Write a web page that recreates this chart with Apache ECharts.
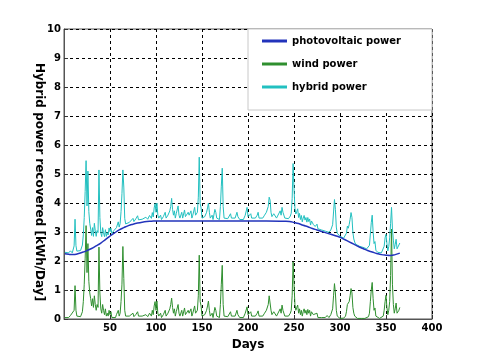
<!DOCTYPE html>
<html>
<head>
<meta charset="utf-8">
<script src="https://cdn.jsdelivr.net/npm/echarts@6/dist/echarts.min.js"></script>
<style>html,body{margin:0;padding:0;background:#fff;}#c{width:480px;height:362px;}</style>
</head>
<body>
<div id="c"></div>
<script>
const seriesNames = ['photovoltaic power', 'wind power', 'hybrid power'];
const xTicks = [50, 100, 150, 200, 250, 300, 350, 400];
const yTicks = [0, 1, 2, 3, 4, 5, 6, 7, 8, 9, 10];

const pvDays = [1, 5, 10, 15, 20, 25, 30, 35, 40, 45, 50, 55, 60, 65, 70, 75, 80, 85, 90, 95, 100, 120, 140, 160, 180, 200, 220, 240, 245, 250, 255, 260, 265, 270, 275, 280, 285, 290, 295, 300, 305, 310, 315, 320, 325, 330, 335, 340, 345, 350, 355, 360, 365];
const pvValues = [2.25, 2.23, 2.22, 2.25, 2.3, 2.36, 2.43, 2.52, 2.62, 2.74, 2.86, 2.97, 3.07, 3.15, 3.22, 3.27, 3.31, 3.34, 3.36, 3.37, 3.38, 3.38, 3.38, 3.38, 3.38, 3.38, 3.38, 3.37, 3.36, 3.33, 3.29, 3.23, 3.18, 3.12, 3.07, 3.02, 2.97, 2.92, 2.87, 2.82, 2.74, 2.66, 2.58, 2.5, 2.43, 2.36, 2.31, 2.26, 2.22, 2.2, 2.19, 2.22, 2.27];

const days = [1,3,5,7,9,11,12,13,14,16,18,20,21,22,23,24,25,26,27,28,29,30,31,32,33,34,35,36,37,38,39,40,41,42,43,44,45,46,47,48,49,50,51,52,54,56,57,59,60,61,62,63,64,65,66,67,69,71,73,75,76,78,80,81,83,85,87,89,91,93,95,96,97,98,99,100,101,102,103,105,106,108,110,111,113,115,116,117,118,119,120,121,122,123,124,125,126,128,129,131,132,134,135,136,138,139,140,142,143,145,146,147,148,149,150,151,153,155,156,157,158,159,161,162,164,165,166,168,169,170,171,172,173,174,176,178,180,181,182,184,186,188,189,191,193,195,197,199,200,201,203,204,206,208,210,211,212,214,216,218,220,222,223,224,225,226,228,229,231,233,235,236,237,238,240,242,244,246,247,248,249,250,251,252,253,254,255,256,257,258,259,260,261,262,263,264,265,266,267,268,269,270,271,272,273,275,276,278,280,282,284,286,288,290,291,292,293,294,295,296,297,298,300,302,304,306,307,308,309,310,311,312,313,314,315,316,317,319,321,323,325,327,329,331,332,333,334,335,336,337,338,339,341,343,345,347,348,349,350,351,352,353,354,355,356,357,358,359,360,361,362,363,364,365];

const windValues = [0.05,0.1,0.05,0.12,0.06,0.3,1.15,0.3,0.1,0.15,0.08,0.25,0.6,1.2,2.1,3.22,1.6,2.6,1.3,0.9,0.7,0.45,0.7,0.4,0.8,0.5,0.3,0.5,0.4,2.48,0.9,0.35,0.2,0.5,0.3,0.15,0.35,0.1,0.2,0.1,0.3,0.15,0.25,0.05,0.1,0.05,0.15,0.3,0.1,0.2,0.6,1.2,2.5,1.4,0.3,0.1,0.05,0.1,0.05,0.2,0.08,0.15,0.25,0.1,0.05,0.1,0.05,0.15,0.08,0.2,0.1,0.3,0.15,0.45,0.6,0.3,0.62,0.2,0.1,0.2,0.05,0.15,0.3,0.1,0.2,0.35,0.5,0.72,0.4,0.2,0.35,0.1,0.25,0.3,0.5,0.2,0.1,0.3,0.1,0.38,0.15,0.1,0.3,0.2,0.35,0.1,0.2,0.45,0.2,0.3,0.8,2.2,0.6,0.45,0.1,0.05,0.15,0.3,0.45,0.62,0.3,0.1,0.2,0.05,0.4,0.3,0.1,0.15,0.05,0.5,1.2,1.85,0.5,0.1,0.05,0.08,0.1,0.25,0.1,0.05,0.1,0.3,0.15,0.05,0.1,0.05,0.2,0.42,0.15,0.1,0.25,0.1,0.05,0.1,0.2,0.28,0.1,0.15,0.1,0.2,0.3,0.5,0.8,0.75,0.3,0.15,0.25,0.2,0.1,0.15,0.35,0.2,0.48,0.3,0.1,0.15,0.1,0.2,0.3,0.8,1.97,1.2,0.5,0.3,0.4,0.48,0.2,0.35,0.15,0.3,0.1,0.25,0.35,0.2,0.3,0.15,0.33,0.2,0.3,0.1,0.25,0.3,0.15,0.2,0.1,0.2,0.05,0.1,0.05,0.08,0.05,0.12,0.05,0.15,0.1,0.35,0.8,1.22,0.9,0.3,0.1,0.05,0.02,0.05,0.03,0.1,0.25,0.5,0.45,0.6,0.8,1.05,0.9,0.4,0.2,0.1,0.05,0.02,0.03,0.02,0.04,0.02,0.05,0.08,0.2,0.6,1.0,1.26,0.7,0.3,0.38,0.1,0.05,0.02,0.05,0.1,0.3,0.6,0.82,0.4,0.15,0.3,0.6,1.5,3.1,1.2,0.5,0.2,0.35,0.55,0.2,0.15,0.3,0.4];

const hybridValues = [2.3,2.34,2.28,2.35,2.28,2.52,3.44,2.53,2.34,2.4,2.36,2.55,2.9,3.5,4.4,5.46,3.9,5.1,3.7,3.3,3.1,2.88,3.15,2.85,3.3,3.05,2.85,3.05,2.98,5.14,3.5,2.97,2.84,3.15,2.97,2.84,3.08,2.85,2.98,2.9,3.14,3.01,3.13,2.95,3.04,3.03,3.15,3.35,3.17,3.29,3.7,4.32,5.14,4.55,3.47,3.28,3.26,3.33,3.3,3.47,3.36,3.45,3.56,3.42,3.38,3.44,3.4,3.51,3.44,3.57,3.47,3.67,3.52,3.83,3.98,3.68,4.0,3.58,3.48,3.58,3.43,3.53,3.68,3.48,3.58,3.73,3.88,4.16,3.78,3.58,3.73,3.48,3.63,3.68,3.9,3.58,3.48,3.68,3.48,3.76,3.53,3.48,3.68,3.58,3.73,3.48,3.58,3.85,3.58,3.68,4.2,5.58,3.98,3.83,3.48,3.43,3.53,3.68,3.83,4.0,3.68,3.48,3.58,3.43,3.78,3.68,3.48,3.53,3.43,3.88,4.58,5.2,3.88,3.48,3.43,3.46,3.48,3.63,3.48,3.43,3.48,3.68,3.53,3.43,3.48,3.43,3.58,3.85,3.53,3.48,3.63,3.48,3.43,3.48,3.58,3.68,3.48,3.53,3.48,3.58,3.68,3.88,4.2,4.1,3.68,3.53,3.63,3.6,3.48,3.53,3.73,3.58,3.85,3.68,3.48,3.52,3.46,3.55,3.65,4.15,5.36,4.5,3.82,3.62,3.71,3.8,3.5,3.64,3.43,3.57,3.35,3.48,3.57,3.41,3.5,3.34,3.5,3.36,3.45,3.24,3.38,3.42,3.26,3.3,3.19,3.27,3.11,3.14,3.07,3.08,3.03,3.08,2.99,3.07,3.01,3.25,3.69,4.12,3.78,3.17,2.96,2.9,2.85,2.84,2.79,2.83,2.96,3.2,3.13,3.26,3.44,3.67,3.5,2.98,2.76,2.65,2.58,2.53,2.51,2.48,2.47,2.42,2.42,2.43,2.54,2.93,3.32,3.58,3.01,2.6,2.67,2.37,2.3,2.26,2.28,2.31,2.51,2.8,2.92,2.6,2.35,2.5,2.8,3.3,3.85,3.1,2.72,2.42,2.57,2.75,2.42,2.38,2.55,2.62];

const pvData = pvDays.map((d, i) => [d, pvValues[i]]);
const windData = days.map((d, i) => [d, windValues[i]]);
const hybridData = days.map((d, i) => [d, hybridValues[i]]);

const FONT = 'DejaVu Sans';
const chart = echarts.init(document.getElementById('c'), null, {renderer: 'canvas'});
chart.setOption({
  animation: false,
  backgroundColor: '#ffffff',
  grid: {left: 64, right: 48, top: 29, bottom: 43, show: true, borderColor: '#555555', borderWidth: 1, backgroundColor: 'transparent'},
  legend: {
    data: seriesNames,
    orient: 'vertical',
    left: 248, top: 29,
    padding: [6, 31, 17, 14],
    itemGap: 11,
    itemWidth: 25, itemHeight: 3,
    icon: 'rect',
    backgroundColor: '#ffffff',
    borderColor: '#c8c8c8', borderWidth: 1,
    textStyle: {fontFamily: FONT, fontWeight: 'bold', fontSize: 10, color: '#000', lineHeight: 12}
  },
  xAxis: {
    type: 'value', min: 0, max: 400, interval: 50,
    name: 'Days', nameLocation: 'middle', nameGap: 20,
    nameTextStyle: {fontFamily: FONT, fontWeight: 'bold', fontSize: 12, color: '#000'},
    axisLine: {show: true, lineStyle: {color: '#555555'}},
    axisTick: {show: true, inside: true, length: 4, lineStyle: {color: '#333'}},
    axisLabel: {fontFamily: FONT, fontWeight: 'bold', fontSize: 10, color: '#000', margin: 4,
      showMinLabel: false,
      formatter: v => xTicks.includes(v) ? String(v) : ''},
    splitLine: {show: true, lineStyle: {color: '#000', type: [3, 3], width: 1}}
  },
  yAxis: {
    type: 'value', min: 0, max: 10, interval: 1,
    name: 'Hybrid power recovered [kWh/Day]', nameLocation: 'middle', nameGap: 19, nameRotate: -90,
    nameMoveOverlap: false,
    nameTextStyle: {fontFamily: FONT, fontWeight: 'bold', fontSize: 12, color: '#000', padding: [0, 0, 0, 16]},
    axisLine: {show: true, lineStyle: {color: '#555555'}},
    axisTick: {show: true, inside: true, length: 4, lineStyle: {color: '#333'}},
    axisLabel: {fontFamily: FONT, fontWeight: 'bold', fontSize: 10, color: '#000', margin: 3,
      formatter: v => yTicks.includes(v) ? String(v) : ''},
    splitLine: {show: true, lineStyle: {color: '#000', type: [3, 3], width: 1}}
  },
  series: [
    {name: 'hybrid power', type: 'line', data: hybridData, showSymbol: false, symbol: 'none',
      lineStyle: {color: '#22c0c0', width: 1}, itemStyle: {color: '#22c0c0'}, z: 2},
    {name: 'wind power', type: 'line', data: windData, showSymbol: false, symbol: 'none',
      lineStyle: {color: '#2f8f2f', width: 1}, itemStyle: {color: '#2f8f2f'}, z: 3},
    {name: 'photovoltaic power', type: 'line', data: pvData, showSymbol: false, symbol: 'none', smooth: true,
      lineStyle: {color: '#2233bb', width: 1.5}, itemStyle: {color: '#2233bb'}, z: 4}
  ]
});
</script>
</body>
</html>
